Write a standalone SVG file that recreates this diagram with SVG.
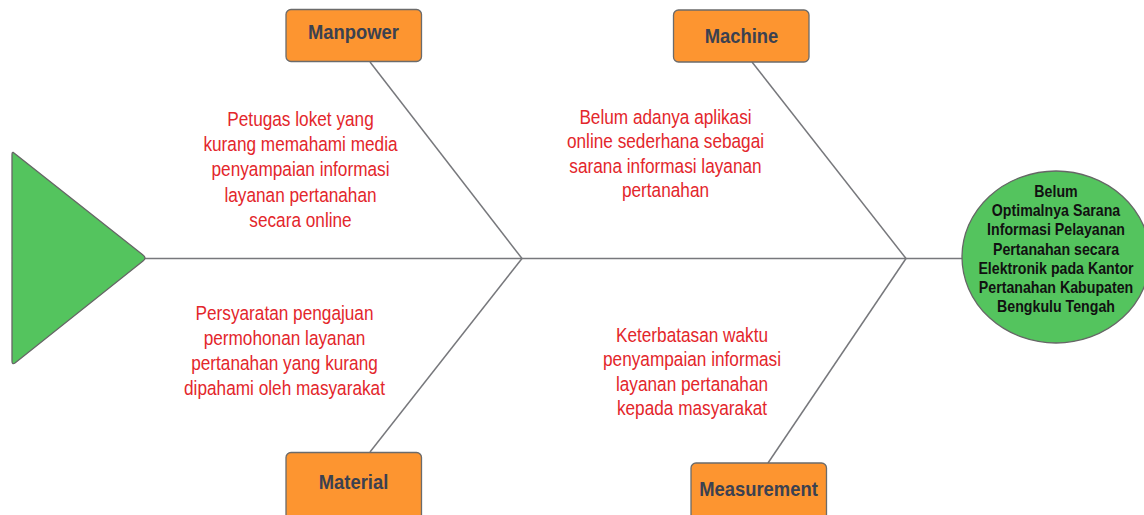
<svg xmlns="http://www.w3.org/2000/svg" width="1144" height="515" viewBox="0 0 1144 515">
<style>
.bone{stroke:#77787c;stroke-width:1.5;fill:none}
.cat rect{fill:#fd9530;stroke:#6b6b6b;stroke-width:1.3}
.cat text{font-family:"Liberation Sans",Arial,sans-serif;font-weight:bold;font-size:20px;fill:#3b4150;text-anchor:middle}
.cause{font-family:"Liberation Sans",Arial,sans-serif;font-size:20.5px;fill:#e3262b;text-anchor:middle}
.effect{font-family:"Liberation Sans",Arial,sans-serif;font-weight:bold;font-size:16.5px;fill:#111;text-anchor:middle}
.green{fill:#54c45e;stroke:#666;stroke-width:1.3}
</style>
<rect width="1144" height="515" fill="#fff"/>
<g id="connectors">
<line class="bone" x1="145" y1="258.5" x2="963" y2="258.5"/>
<line class="bone" x1="370" y1="62" x2="522" y2="258.5"/>
<line class="bone" x1="370" y1="452" x2="522" y2="258.5"/>
<line class="bone" x1="752" y1="62" x2="906" y2="258.5"/>
<line class="bone" x1="768" y1="463" x2="906" y2="258.5"/>
</g>
<g id="head">
<path class="green" d="M14,153 Q12,151 12,155 L12,361 Q12,365 15,363 L143,261 Q147,258 143,255 Z"/>
</g>
<g id="effect">
<ellipse class="green" cx="1056" cy="257" rx="94" ry="86"/>
<g transform="translate(1056,197) scale(0.86,1)">
<text class="effect"><tspan x="0" y="0">Belum</tspan><tspan x="0" y="19.2">Optimalnya Sarana</tspan><tspan x="0" y="38.4">Informasi Pelayanan</tspan><tspan x="0" y="57.6">Pertanahan secara</tspan><tspan x="0" y="76.8">Elektronik pada Kantor</tspan><tspan x="0" y="96">Pertanahan Kabupaten</tspan><tspan x="0" y="115.2">Bengkulu Tengah</tspan></text>
</g>
</g>
<g id="manpower" class="cat">
<rect x="286" y="9.5" width="135.5" height="52" rx="5"/>
<text transform="translate(353.5,39) scale(0.92,1)">Manpower</text>
</g>
<g id="machine" class="cat">
<rect x="673.5" y="10" width="135.5" height="52" rx="5"/>
<text transform="translate(741.5,43) scale(0.92,1)">Machine</text>
</g>
<g id="material" class="cat">
<rect x="286" y="452.5" width="135.5" height="70" rx="5"/>
<text transform="translate(353.5,489) scale(0.92,1)">Material</text>
</g>
<g id="measurement" class="cat">
<rect x="691" y="463" width="135.5" height="60" rx="5"/>
<text transform="translate(758.5,496) scale(0.92,1)">Measurement</text>
</g>
<g id="cause-manpower" transform="translate(300.5,126) scale(0.84,1)">
<text class="cause"><tspan x="0" y="0">Petugas loket yang</tspan><tspan x="0" y="25.2">kurang memahami media</tspan><tspan x="0" y="50.4">penyampaian informasi</tspan><tspan x="0" y="75.6">layanan pertanahan</tspan><tspan x="0" y="100.8">secara online</tspan></text>
</g>
<g id="cause-machine" transform="translate(665.5,124) scale(0.84,1)">
<text class="cause"><tspan x="0" y="0">Belum adanya aplikasi</tspan><tspan x="0" y="24.5">online sederhana sebagai</tspan><tspan x="0" y="49">sarana informasi layanan</tspan><tspan x="0" y="73.5">pertanahan</tspan></text>
</g>
<g id="cause-material" transform="translate(284.5,320) scale(0.84,1)">
<text class="cause"><tspan x="0" y="0">Persyaratan pengajuan</tspan><tspan x="0" y="25">permohonan layanan</tspan><tspan x="0" y="50">pertanahan yang kurang</tspan><tspan x="0" y="75">dipahami oleh masyarakat</tspan></text>
</g>
<g id="cause-measurement" transform="translate(692,342) scale(0.84,1)">
<text class="cause"><tspan x="0" y="0">Keterbatasan waktu</tspan><tspan x="0" y="24.5">penyampaian informasi</tspan><tspan x="0" y="49">layanan pertanahan</tspan><tspan x="0" y="73.5">kepada masyarakat</tspan></text>
</g>
</svg>
